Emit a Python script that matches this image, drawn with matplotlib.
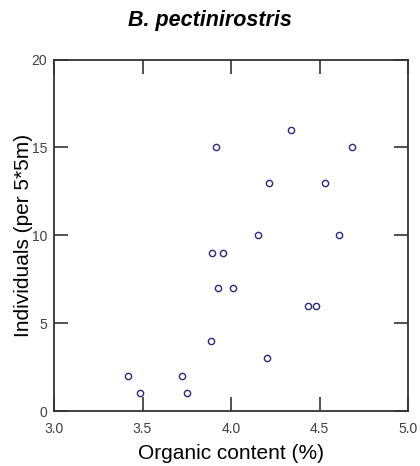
import matplotlib
matplotlib.use("Agg")
import matplotlib.pyplot as plt

# Organic content (%) vs individual counts per 5*5 m quadrat
organic = [4.339, 3.915, 4.685, 4.216, 4.533, 4.153, 4.608, 3.894, 3.953,
           3.928, 4.011, 4.433, 4.480, 3.887, 4.205, 3.416, 3.723, 3.486, 3.751]
individuals = [16, 15, 15, 13, 13, 10, 10, 9, 9,
               7, 7, 6, 6, 4, 3, 2, 2, 1, 1]

xticks = [3.0, 3.5, 4.0, 4.5, 5.0]
yticks = [0, 5, 10, 15, 20]

plt.rcParams['font.family'] = ['Liberation Sans', 'DejaVu Sans']

fig = plt.figure(figsize=(4.2, 4.66), dpi=100)
ax = fig.add_axes([0.1286, 0.118, 0.843, 0.754])

ax.plot(organic, individuals, linestyle='none', marker='o', markersize=4.5,
        markerfacecolor='white', markeredgecolor='#2a2a80', markeredgewidth=1.0)

ax.set_xlim(3.0, 5.0)
ax.set_ylim(0, 20)
ax.set_xticks(xticks)
ax.set_xticklabels([f"{t:.1f}" for t in xticks])
ax.set_yticks(yticks)

ax.tick_params(direction='in', length=10, width=1.2, color='#333333',
               top=True, right=True, labelsize=10, labelcolor='#404040', pad=5)
ax.tick_params(axis='x', pad=8)
for s in ax.spines.values():
    s.set_color('#333333')
    s.set_linewidth(1.3)

ax.set_xlabel("Organic content (%)", fontsize=15, labelpad=6)
ax.set_ylabel("Individuals (per 5*5m)", fontsize=15, labelpad=-1)
fig.suptitle("B. pectinirostris", fontsize=15.5, fontweight='bold', fontstyle='italic',
             y=0.978)

fig.savefig("out.png", dpi=100)
